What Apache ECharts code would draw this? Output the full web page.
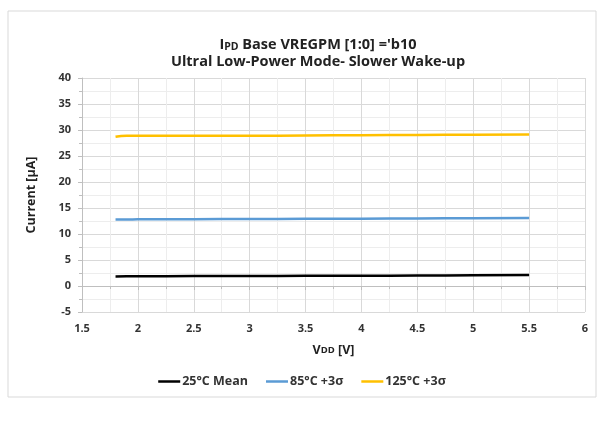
<!DOCTYPE html>
<html>
<head>
<meta charset="utf-8">
<script src="https://cdn.jsdelivr.net/npm/echarts@6/dist/echarts.min.js"></script>
<style>
  html, body { margin: 0; padding: 0; background: #fff; }
  #main { width: 604px; height: 432px; }
</style>
</head>
<body>
<div id="main"></div>
<script>
// VDD sweep points
const vdd = [1.8, 1.9, 2.0, 2.5, 3.0, 3.5, 4.0, 4.5, 5.0, 5.5];
const mean25 = [1.85, 1.87, 1.88, 1.9, 1.92, 1.95, 1.98, 2.0, 2.05, 2.1];
const sigma85 = [12.8, 12.8, 12.82, 12.85, 12.88, 12.92, 12.95, 13.0, 13.05, 13.1];
const sigma125 = [28.7, 28.9, 28.9, 28.9, 28.9, 28.95, 29.0, 29.05, 29.1, 29.15];
const seriesNames = ['25°C Mean', '85°C +3σ', '125°C +3σ'];
const colors = ['#000000', '#5b9bd5', '#ffc000'];

const font = '"Open Sans", "Liberation Sans", sans-serif';
const pair = (ys) => vdd.map((x, i) => [x, ys[i]]);

const chart = echarts.init(document.getElementById('main'));
chart.setOption({
  animation: false,
  color: colors,
  textStyle: { fontFamily: font },
  title: {
    left: 313,
    top: 31,
    textAlign: 'center',
    text: '{a|I}{b|PD}{a| Base VREGPM [1:0] =\'b10}\n{a|Ultral Low-Power Mode- Slower Wake-up}',
    textStyle: {
      rich: {
        a: { fontSize: 14.5, fontWeight: 'bold', color: '#222', fontFamily: font, lineHeight: 17 },
        b: { fontSize: 10.5, fontWeight: 'bold', color: '#222', fontFamily: font, lineHeight: 14, verticalAlign: 'bottom' }
      }
    }
  },
  graphic: [{
    type: 'rect',
    shape: { x: 8, y: 11, width: 588, height: 386 },
    style: { fill: 'none', stroke: '#d9d9d9', lineWidth: 1 },
    silent: true
  }],
  grid: { left: 82, right: 19, top: 78, bottom: 120 },
  legend: {
    top: 370,
    left: 'center',
    icon: 'rect',
    itemWidth: 22,
    itemHeight: 2.5,
    itemGap: 18,
    textStyle: { fontSize: 12.5, fontWeight: 'bold', color: '#333', fontFamily: font, padding: [0, 0, 0, -3] },
    data: seriesNames
  },
  xAxis: {
    type: 'value',
    min: 1.5,
    max: 6,
    interval: 0.5,
    name: '{a|V}{b|DD}{a| [V]}',
    nameLocation: 'middle',
    nameGap: 32,
    nameTextStyle: {
      rich: {
        a: { fontSize: 12.5, fontWeight: 'bold', color: '#222', fontFamily: font },
        b: { fontSize: 9.5, fontWeight: 'bold', color: '#222', fontFamily: font }
      }
    },
    axisLine: { lineStyle: { color: '#bfbfbf' } },
    axisTick: { show: true, length: 4, lineStyle: { color: '#bfbfbf' } },
    minorTick: { show: true, splitNumber: 2, length: 3, lineStyle: { color: '#bfbfbf' } },
    axisLabel: { fontSize: 11, fontWeight: 'bold', color: '#333', margin: 11 },
    splitLine: { show: true, lineStyle: { color: '#d9d9d9' } },
    minorSplitLine: { show: true, lineStyle: { color: '#ededed' } }
  },
  yAxis: {
    type: 'value',
    min: -5,
    max: 40,
    interval: 5,
    name: 'Current [µA]',
    nameLocation: 'middle',
    nameGap: 44,
    nameTextStyle: { fontSize: 12.5, fontWeight: 'bold', color: '#222' },
    axisLine: { show: true, lineStyle: { color: '#bfbfbf' } },
    axisTick: { show: true, length: 4, lineStyle: { color: '#bfbfbf' } },
    minorTick: { show: true, splitNumber: 2, length: 3, lineStyle: { color: '#bfbfbf' } },
    axisLabel: { fontSize: 11, fontWeight: 'bold', color: '#333', margin: 11 },
    splitLine: { show: true, lineStyle: { color: '#d9d9d9' } },
    minorSplitLine: { show: true, lineStyle: { color: '#ededed' } }
  },
  series: [
    { name: seriesNames[0], type: 'line', data: pair(mean25), showSymbol: false, smooth: true, lineStyle: { width: 2.5 } },
    { name: seriesNames[1], type: 'line', data: pair(sigma85), showSymbol: false, smooth: true, lineStyle: { width: 2.5 } },
    { name: seriesNames[2], type: 'line', data: pair(sigma125), showSymbol: false, smooth: true, lineStyle: { width: 2.5 } }
  ]
});
</script>
</body>
</html>
